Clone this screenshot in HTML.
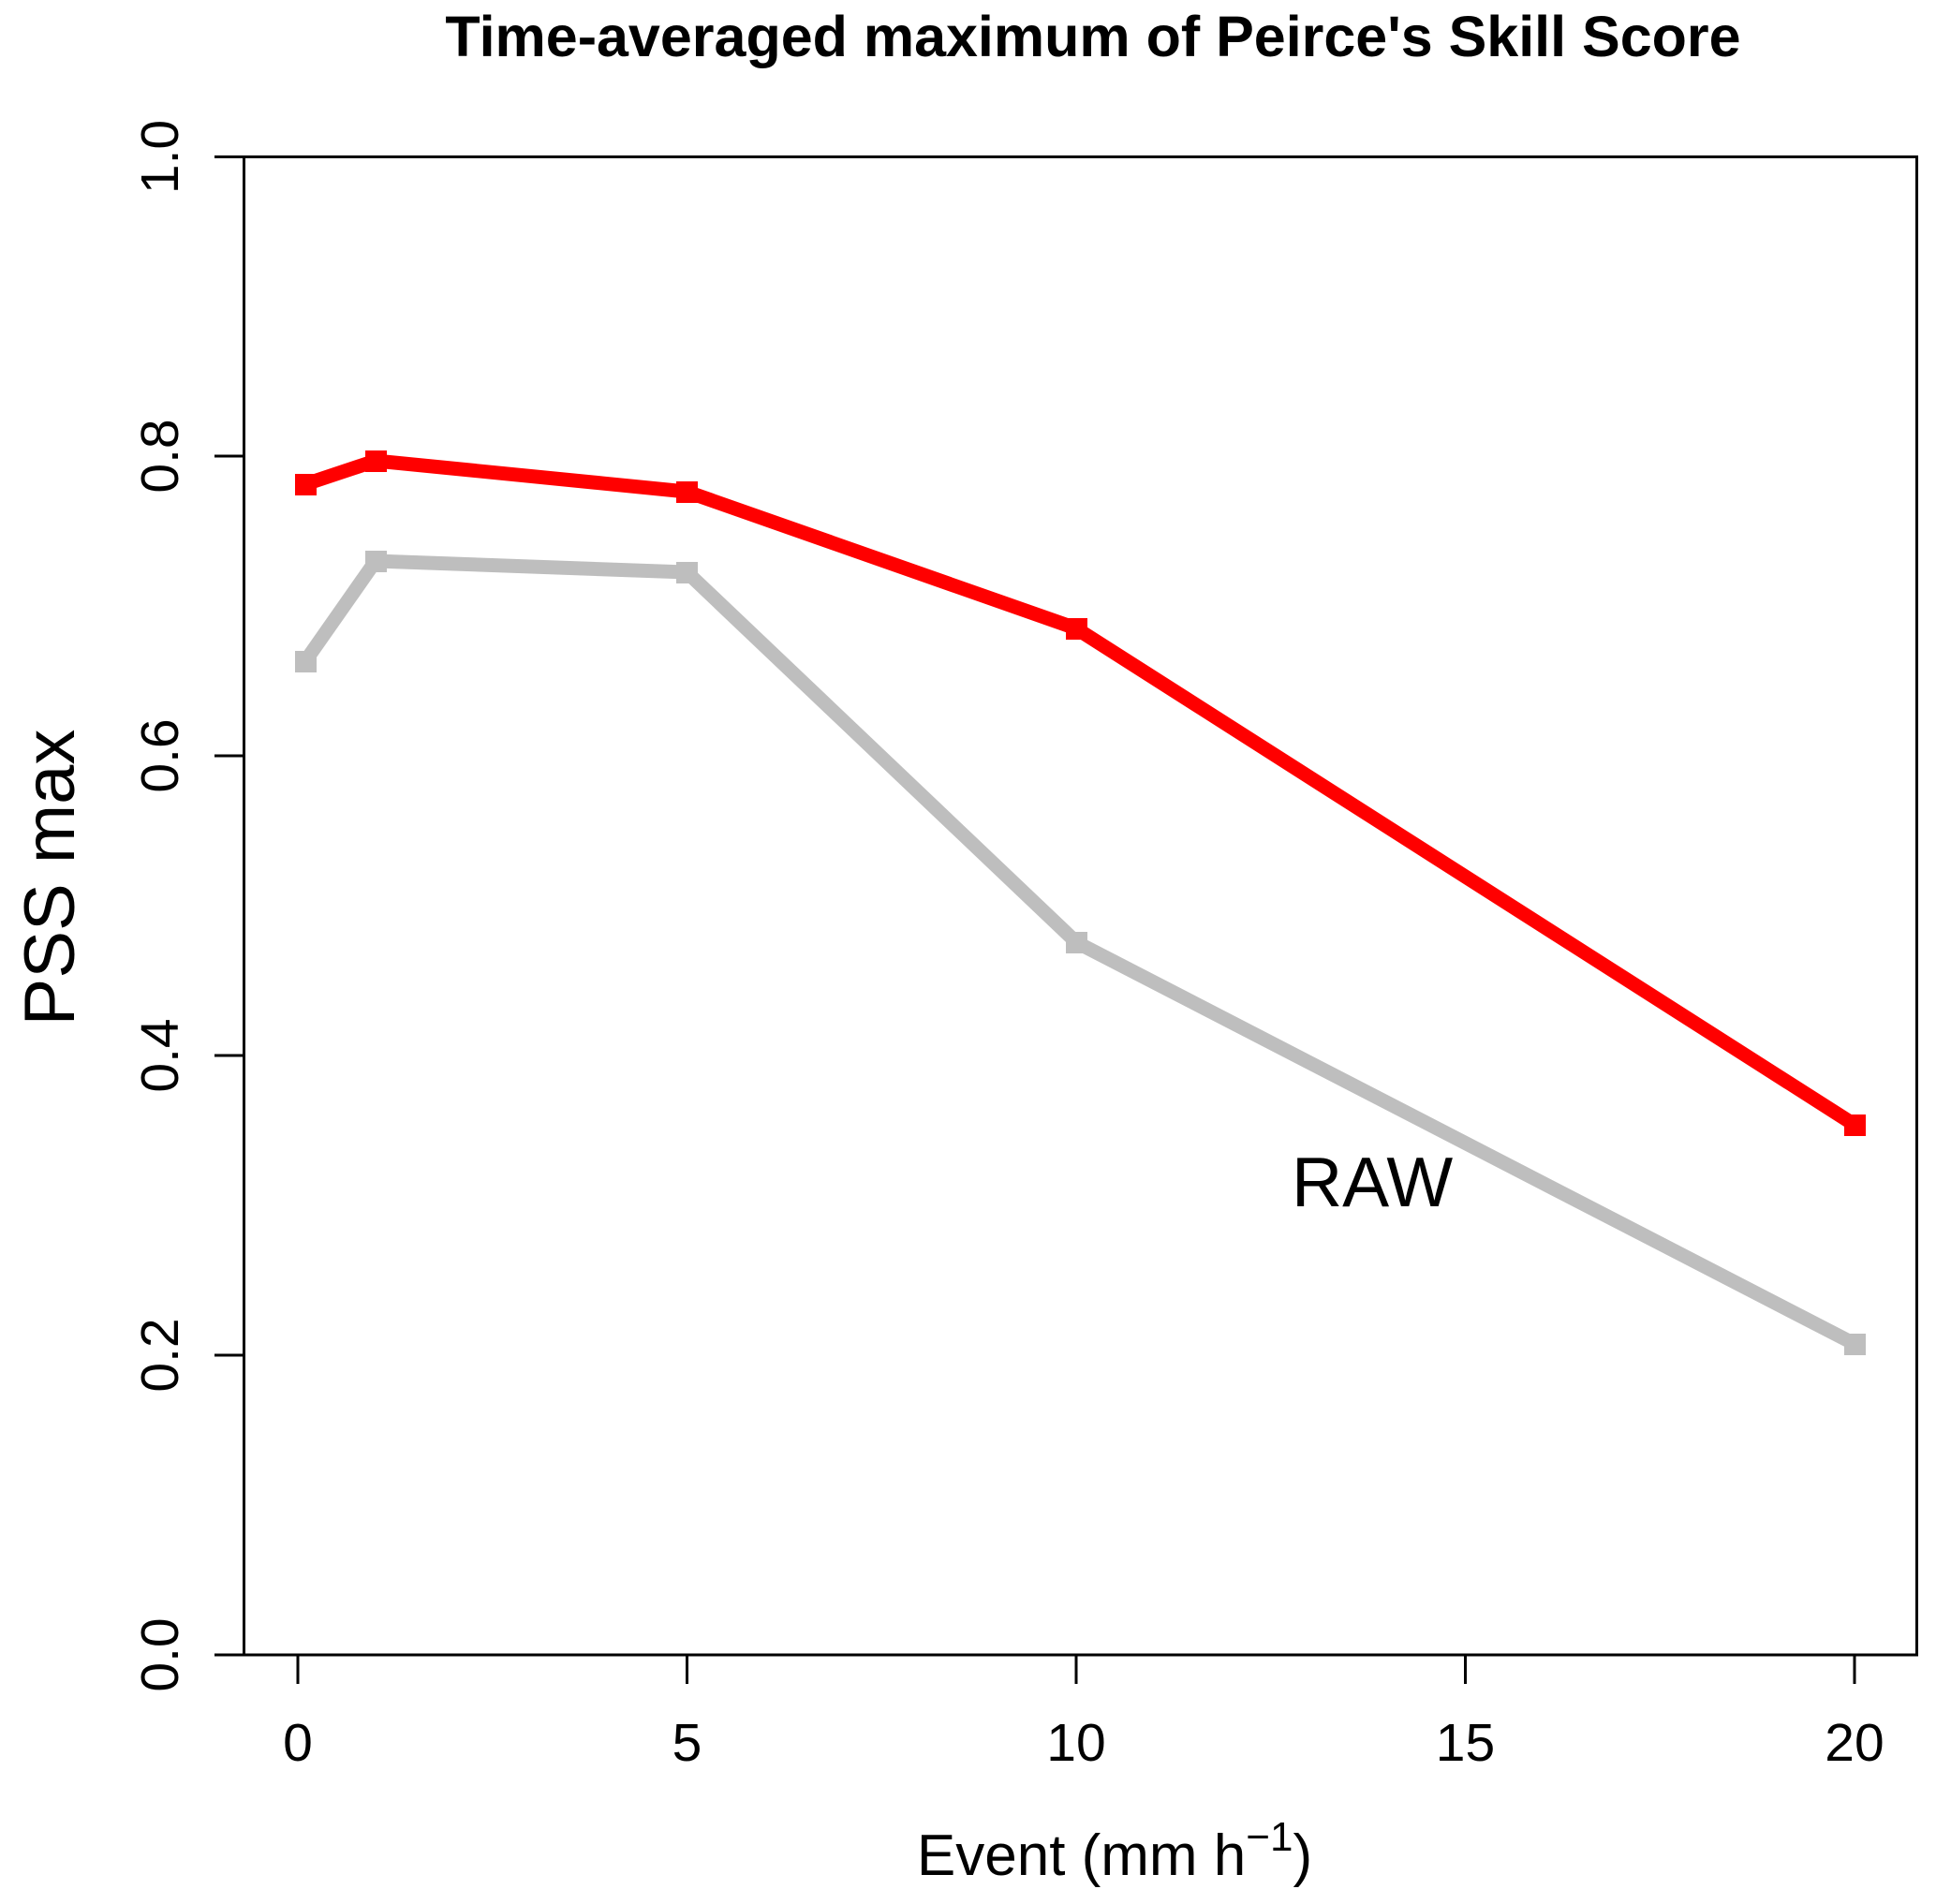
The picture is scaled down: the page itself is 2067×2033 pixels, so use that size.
<!DOCTYPE html>
<html><head><meta charset="utf-8"><style>html,body{margin:0;padding:0;background:#fff}svg{display:block}</style></head>
<body>
<svg width="2067" height="2033" viewBox="0 0 2067 2033" xmlns="http://www.w3.org/2000/svg" font-family="Liberation Sans, sans-serif">
<rect width="2067" height="2033" fill="#fff"/>
<text x="1167" y="60" text-anchor="middle" font-size="61" font-weight="bold">Time-averaged maximum of Peirce's Skill Score</text>
<rect x="260.5" y="167.5" width="1786" height="1599.5" fill="none" stroke="#000" stroke-width="3"/>
<g stroke="#000" stroke-width="3">
<line x1="229" y1="167.5" x2="260" y2="167.5"/>
<line x1="229" y1="487" x2="260" y2="487"/>
<line x1="229" y1="807" x2="260" y2="807"/>
<line x1="229" y1="1127" x2="260" y2="1127"/>
<line x1="229" y1="1447" x2="260" y2="1447"/>
<line x1="229" y1="1767" x2="260" y2="1767"/>
<line x1="318" y1="1767" x2="318" y2="1798"/>
<line x1="733.5" y1="1767" x2="733.5" y2="1798"/>
<line x1="1149" y1="1767" x2="1149" y2="1798"/>
<line x1="1564.5" y1="1767" x2="1564.5" y2="1798"/>
<line x1="1980" y1="1767" x2="1980" y2="1798"/>
</g>
<g font-size="57" text-anchor="middle">
<text transform="translate(190,167.5) rotate(-90)">1.0</text>
<text transform="translate(190,487) rotate(-90)">0.8</text>
<text transform="translate(190,807) rotate(-90)">0.6</text>
<text transform="translate(190,1127) rotate(-90)">0.4</text>
<text transform="translate(190,1447) rotate(-90)">0.2</text>
<text transform="translate(190,1767) rotate(-90)">0.0</text>
<text x="318" y="1880">0</text>
<text x="733.5" y="1880">5</text>
<text x="1149" y="1880">10</text>
<text x="1564.5" y="1880">15</text>
<text x="1980" y="1880">20</text>
</g>
<text transform="translate(79,937) rotate(-90)" font-size="76" text-anchor="middle">PSS max</text>
<text x="1190" y="2002" font-size="62" text-anchor="middle">Event (mm h<tspan font-size="44" dy="-26">−1</tspan><tspan dy="26">)</tspan></text>
<text x="1379" y="1288" font-size="75">RAW</text>
<polyline fill="none" stroke="#bebebe" stroke-width="15" points="326,706 401,599 733.5,611 1149,1006 1980,1435"/>
<g fill="#bebebe">
<rect x="315" y="695" width="23" height="23"/><rect x="390" y="588" width="23" height="23"/><rect x="722" y="600" width="23" height="23"/><rect x="1138" y="995" width="23" height="23"/><rect x="1969" y="1424" width="23" height="23"/>
</g>
<polyline fill="none" stroke="#ff0000" stroke-width="15" points="326,517 401,492 733.5,525 1149,671 1980,1201"/>
<g fill="#ff0000">
<rect x="315" y="506" width="23" height="23"/><rect x="390" y="481" width="23" height="23"/><rect x="722" y="514" width="23" height="23"/><rect x="1138" y="660" width="23" height="23"/><rect x="1969" y="1190" width="23" height="23"/>
</g>
</svg>
</body></html>
